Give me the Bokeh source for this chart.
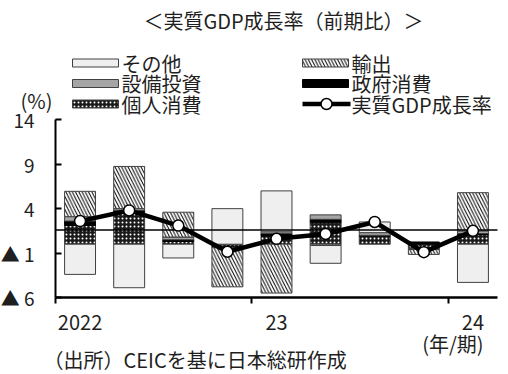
import numpy as np
from bokeh.plotting import figure
from bokeh.models import Range1d, FixedTicker, Label
from bokeh.embed import file_html
from bokeh.resources import INLINE

# Quarterly contributions to real GDP growth (q/q, %pt)
quarters = ["2022Q1", "2022Q2", "2022Q3", "2022Q4", "2023Q1",
            "2023Q2", "2023Q3", "2023Q4", "2024Q1"]
year_labels = ["2022", "23", "24"]
consumption = [2.1, 3.6, 0.3, -0.3, 0.9, 2.4, 0.9, -0.5, 1.1]       # 個人消費
government = [0.5, 0.2, 0.2, -0.1, 0.3, 0.4, 0.1, 0.25, 0.1]        # 政府消費
capex = [0.5, 0.2, 0.3, 0.0, 0.2, 0.5, 0.3, -0.1, 0.3]             # 設備投資
exports = [2.85, 4.75, 2.8, -4.4, -5.5, -0.15, 0.0, -0.55, 4.3]     # 輸出
others = [-3.4, -4.9, -1.55, 4.0, 4.6, -2.0, 1.2, 0.0, -4.3]       # その他
gdp = [2.6, 3.8, 2.1, -0.85, 0.6, 1.15, 2.5, -0.9, 1.5]            # 実質GDP成長率
ref_level = 1.6
y_ticks = [-6, -1, 4, 9, 14]
y_tick_labels = ["▲ 6", "▲ 1", "4", "9", "14"]

FONT = "Noto Sans CJK JP"
TXT = "#1f1f1f"

# page geometry: the frame covers the whole page, axes sit at fixed data locations
W, H = 508, 374
LEFT, RIGHT = 55, 11          # pixel position of the value axis / right end of the plot
AX_Y, TOP_Y = 297, 119.3      # pixel rows of the -6 and 14 ticks
Y_MIN, Y_MAX_TICK = -6, 14
n = len(quarters)
PX_PER_Q = (W - LEFT - RIGHT) / n
PX_PER_UNIT = (AX_Y - TOP_Y) / (Y_MAX_TICK - Y_MIN)


def sx(px):
    return (px - LEFT) / PX_PER_Q


def sy(py):
    return Y_MIN + (AX_Y - py) / PX_PER_UNIT


p = figure(width=W, height=H, x_range=Range1d(sx(0), sx(W)), y_range=Range1d(sy(H), sy(0)),
           output_backend="svg", toolbar_location=None, title=None,
           min_border=0, min_border_left=0, min_border_right=0, min_border_top=0,
           min_border_bottom=0, outline_line_color=None)
p.xgrid.visible = False
p.ygrid.visible = False

styles = {
    "個人消費": dict(fill_color="#1a1a1a", line_color="#404040", hatch_pattern="dot",
                 hatch_color="white", hatch_scale=4, hatch_weight=2),
    "政府消費": dict(fill_color="black", line_color="black"),
    "設備投資": dict(fill_color="#a5a5a5", line_color="#404040"),
    "輸出": dict(fill_color="white", line_color="#404040", hatch_pattern="left_diagonal_line",
               hatch_color="black", hatch_scale=6.5, hatch_weight=1.0),
    "その他": dict(fill_color="#efefef", line_color="#404040"),
}
series = [("個人消費", consumption), ("政府消費", government), ("設備投資", capex),
          ("輸出", exports), ("その他", others)]

xc = np.arange(n) + 0.5
pos = np.zeros(n)
neg = np.zeros(n)
for name, vals in series:
    v = np.array(vals, dtype=float)
    bottom = np.where(v >= 0, pos, neg)
    top = bottom + v
    pos = np.where(v >= 0, top, pos)
    neg = np.where(v < 0, top, neg)
    m = v != 0
    p.vbar(x=xc[m], bottom=bottom[m], top=top[m], width=0.63, line_width=1, **styles[name])

p.line([0, n], [ref_level, ref_level], line_color="black", line_width=1.6)

p.line(xc, gdp, line_color="black", line_width=4.5, line_join="round")
p.scatter(xc, gdp, size=11, fill_color="white", line_color="black", line_width=1.5)

# value axis
ya = p.yaxis[0]
ya.fixed_location = 0
ya.ticker = FixedTicker(ticks=y_ticks)
ya.major_label_overrides = dict(zip(y_ticks, y_tick_labels))
ya.bounds = (Y_MIN, Y_MAX_TICK)
ya.axis_line_width = 2
ya.major_tick_in = 6
ya.major_tick_out = 0
ya.major_tick_line_width = 2
ya.minor_tick_line_color = None
ya.major_label_standoff = 21
ya.major_label_text_font = FONT
ya.major_label_text_font_size = "19px"
ya.major_label_text_color = TXT

# category axis: year labels centred on the first quarter, ticks at year boundaries
xa = p.xaxis[0]
year_pos = [0.5, 4.5, 8.5]
xa.fixed_location = Y_MIN
xa.ticker = FixedTicker(ticks=year_pos, minor_ticks=[0, 4, 8])
xa.major_label_overrides = dict(zip(year_pos, year_labels))
xa.bounds = (0, n)
xa.axis_line_width = 2.5
xa.major_tick_in = 0
xa.major_tick_out = 0
xa.minor_tick_in = 0
xa.minor_tick_out = 6
xa.minor_tick_line_color = "black"
xa.minor_tick_line_width = 2
xa.major_label_standoff = 11
xa.major_label_text_font = FONT
xa.major_label_text_font_size = "20px"
xa.major_label_text_color = TXT


def label(px, py, text, size="20px", align="left"):
    p.add_layout(Label(x=sx(px), y=sy(py), text=text, text_font=FONT, text_font_size=size,
                       text_align=align, text_baseline="middle", text_color=TXT))


label(283, 20, "＜実質GDP成長率（前期比）＞", align="center")
label(36, 100, "(%)", align="center")
label(483, 343, "(年/期)", align="right")
label(43, 359, "（出所）CEICを基に日本総研作成", size="20px")

# legend, two columns
legend_rows = [62.5, 83, 103.5]
legend_items = [("その他", 0, 0), ("輸出", 0, 1), ("設備投資", 1, 0), ("政府消費", 1, 1),
                ("個人消費", 2, 0)]
col_x = [72, 302]
for name, r, c in legend_items:
    x0 = col_x[c]
    yc = legend_rows[r]
    p.quad(left=[sx(x0)], right=[sx(x0 + 46)], top=[sy(yc - 4)], bottom=[sy(yc + 4)],
           line_width=1, **styles[name])
    label(x0 + 49, yc, name)

yc = legend_rows[2]
p.line([sx(302), sx(350)], [sy(yc), sy(yc)], line_color="black", line_width=4.5)
p.scatter([sx(326)], [sy(yc)], size=11, fill_color="white", line_color="black", line_width=1.5)
label(351, yc, "実質GDP成長率")

open("out.html", "w").write(file_html(p, INLINE))
